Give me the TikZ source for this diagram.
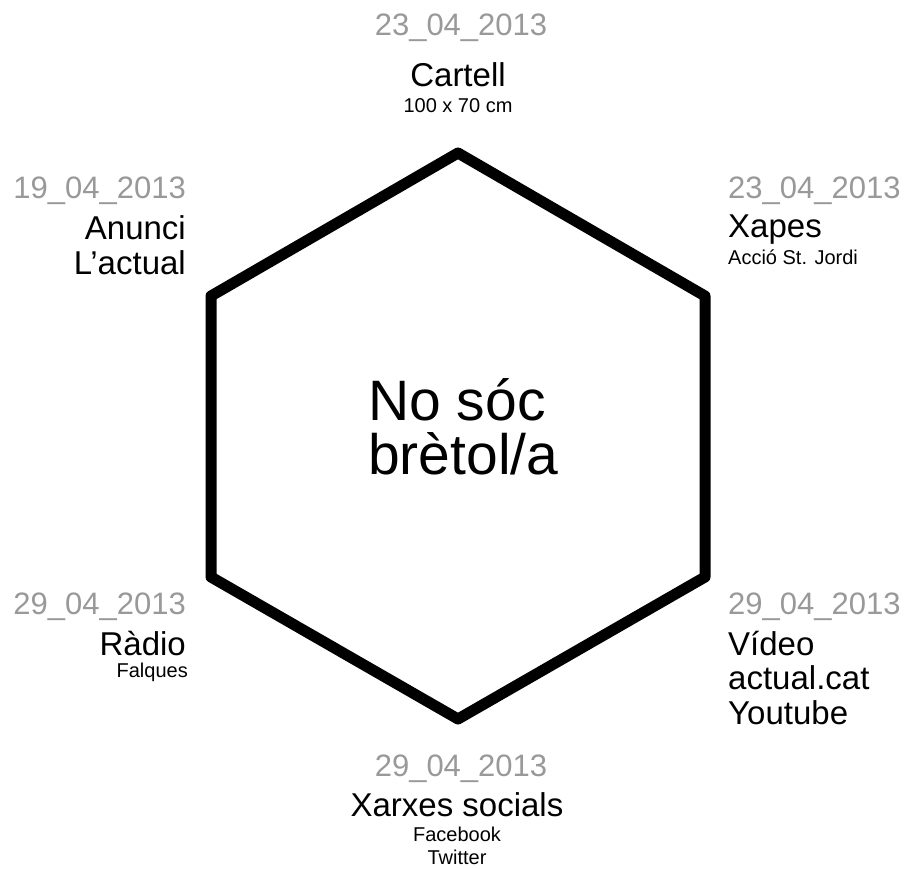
\documentclass[tikz,border=0pt]{standalone}
\usepackage{fontspec}
\setmainfont{Liberation Sans}
\usepackage{xcolor}
\usepackage{tikz}
\usetikzlibrary{positioning}

\begin{document}
\begin{tikzpicture}[x=1pt,y=-1pt]
						\tikzstyle{date}=[text=black!40,inner sep=0,font=\fontsize{31}{31}\selectfont]
						\tikzstyle{media}=[text=black,inner sep=0,font=\fontsize{33}{33}\selectfont]
						\tikzstyle{detail}=[text=black,inner sep=0,font=\fontsize{20}{20}\selectfont]
						\tikzstyle{title}=[text=black,inner sep=0,font=\fontsize{57}{57}\selectfont]
						\useasboundingbox (0,0) rectangle (907,869);
						\coordinate (h1) at (458,153);
						\coordinate (h2) at (705,296);
						\coordinate (h3) at (705,577);
						\coordinate (h4) at (458,719);
						\coordinate (h5) at (211,577);
						\coordinate (h6) at (211,296);
						\draw[line width=11pt,line join=round](h1) -- (h2) -- (h3) -- (h4) -- (h5) -- (h6) -- cycle;
						\node[title,anchor=base west](t1) at (368,420) {No sóc};
						\node[title,anchor=base west](t2) at (368,474) {brètol/a};
						% top
						\node[date,anchor=base](d1) at (461,36) {23\_04\_2013};
						\node[media,anchor=base](m1) at (458,87) {Cartell};
						\node[detail,anchor=base](s1) at (458,113) {100 x 70 cm};
						% upper right
						\node[date,anchor=base west](d2) at (728,199) {23\_04\_2013};
						\node[media,anchor=base west](m2) at (728,237) {Xapes};
						\node[detail,anchor=base west](s2) at (728,264) {Acció St. Jordi};
						% lower right
						\node[date,anchor=base west](d3) at (728,614) {29\_04\_2013};
						\node[media,anchor=base west](m3) at (728,655) {Vídeo};
						\node[media,anchor=base west](m4) at (728,689) {actual.cat};
						\node[media,anchor=base west](m5) at (728,724) {Youtube};
						% bottom
						\node[date,anchor=base](d4) at (461,776) {29\_04\_2013};
						\node[media,anchor=base](m6) at (457,816) {Xarxes socials};
						\node[detail,anchor=base](s3) at (457,841) {Facebook};
						\node[detail,anchor=base](s4) at (457,864) {Twitter};
						% lower left
						\node[date,anchor=base east](d5) at (186,614) {29\_04\_2013};
						\node[media,anchor=base east](m7) at (186,655) {Ràdio};
						\node[detail,anchor=base east](s5) at (188,677) {Falques};
						% upper left
						\node[date,anchor=base east](d6) at (186,199) {19\_04\_2013};
						\node[media,anchor=base east](m8) at (186,239) {Anunci};
						\node[media,anchor=base east](m9) at (186,274) {L’actual};
					\end{tikzpicture}
\end{document}
